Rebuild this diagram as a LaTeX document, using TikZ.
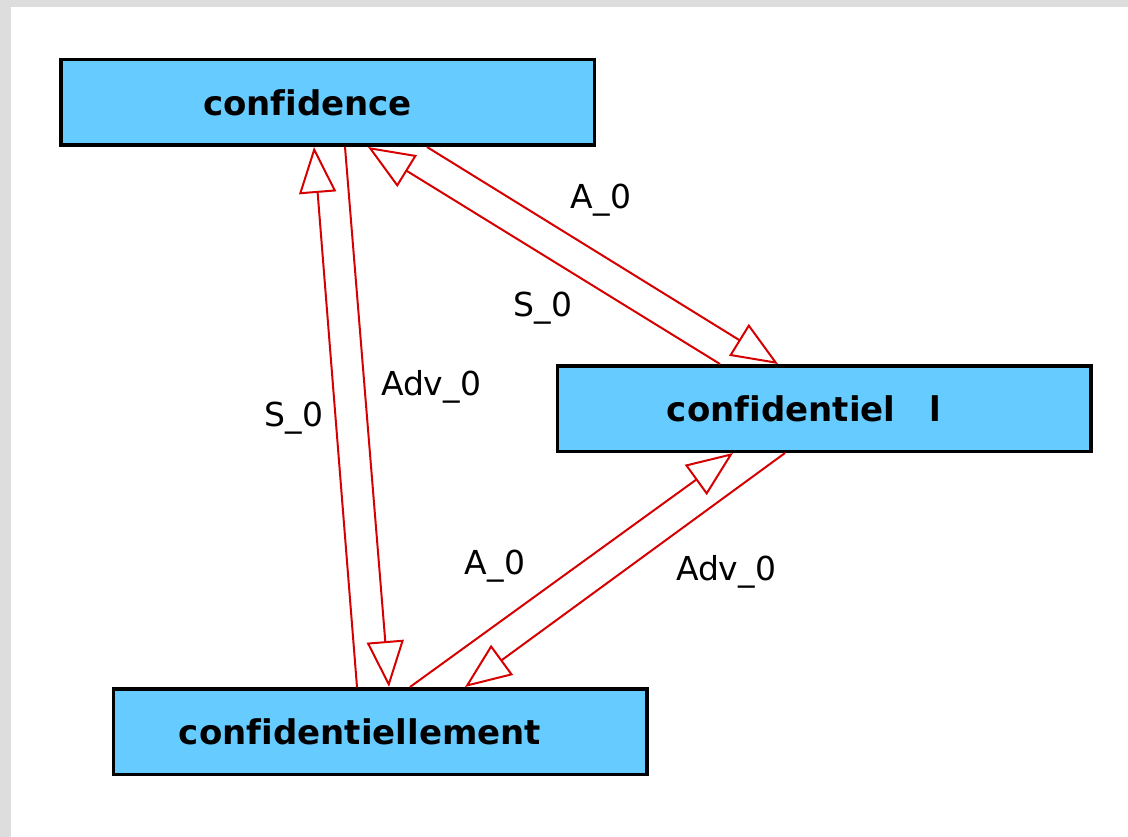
\documentclass[tikz,border=0pt]{standalone}
\usepackage{fontspec}
\setmainfont{DejaVu Sans}[Ligatures=NoCommon]
\usetikzlibrary{arrows.meta}
\definecolor{boxblue}{RGB}{102,204,255}
\definecolor{edgered}{RGB}{214,0,0}
\definecolor{framegray}{RGB}{221,221,221}
\tikzset{
  box/.style={draw=black, line width=3.5pt, fill=boxblue, minimum width=533.5pt, minimum height=85.5pt,
    inner sep=0pt, font=\fontsize{34}{40}\selectfont\bfseries, execute at end node=\hspace{40pt}},
  rel/.style={draw=edgered, line width=2pt, -{Triangle[open, length=46pt, width=37pt]}},
  lbl/.style={inner sep=0pt, font=\fontsize{33}{40}\selectfont}
}

\begin{document}
\begin{tikzpicture}[x=1pt, y=-1pt]
% Frame
\fill[framegray] (0,0) rectangle (1128,837);
\fill[white] (11,7) rectangle (1128,837);
\useasboundingbox (0,0) rectangle (1128,837);

% Boxes
\node[box] (conf) at (327.5,102.5) {confidence};
\node[box] (confl) at (824,408.5) {confidentiel\hspace{34pt}l};
\node[box] (confment) at (380,731.5) {confidentiellement};

% Arrows
\draw[rel] ([xshift=-23pt]confment.north) -- ([xshift=-13.5pt]conf.south);
\draw[rel] ([xshift=17.5pt]conf.south) -- ([xshift=9pt]confment.north);
\draw[rel] ([xshift=99.5pt]conf.south) -- ([xshift=-46pt]confl.north);
\draw[rel] ([xshift=-104pt]confl.north) -- ([xshift=40.5pt]conf.south);
\draw[rel] ([xshift=30pt]confment.north) -- ([xshift=-91pt]confl.south);
\draw[rel] ([xshift=-39pt]confl.south) -- ([xshift=85pt]confment.north);

% Labels
\node[lbl] (s1) at (294,418) {S\_0};
\node[lbl] (adv1) at (431,387) {Adv\_0};
\node[lbl] (a1) at (601,200) {A\_0};
\node[lbl] (s2) at (543,308) {S\_0};
\node[lbl] (a2) at (495,566) {A\_0};
\node[lbl] (adv2) at (726,572) {Adv\_0};
\end{tikzpicture}
\end{document}
